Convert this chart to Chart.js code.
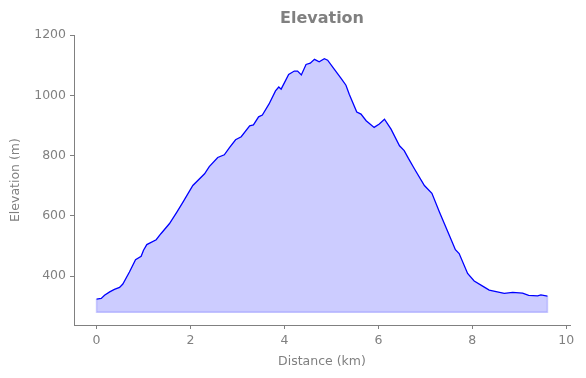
<!DOCTYPE html>
<html>
<head>
<meta charset="utf-8">
<script src="https://cdn.jsdelivr.net/npm/chart.js@4"></script>
<style>
  body { margin: 0; background: #fff; }
</style>
</head>
<body>
<canvas id="elevChart" width="586" height="378"></canvas>
<script>
'use strict';

// distance (km) and elevation (m)
const distKm = [0, 0.10, 0.17, 0.28, 0.38, 0.49, 0.56, 0.70, 0.83, 0.95, 1.00, 1.07, 1.27, 1.37, 1.55, 1.71, 1.84,
  2.05, 2.30, 2.40, 2.58, 2.72, 2.83, 2.96, 3.08, 3.26, 3.34, 3.45, 3.53, 3.67, 3.81, 3.88, 3.93,
  4.09, 4.21, 4.28, 4.36, 4.46, 4.55, 4.64, 4.74, 4.85, 4.92, 5.06, 5.21, 5.31, 5.38, 5.54, 5.63,
  5.74, 5.91, 6.02, 6.13, 6.27, 6.45, 6.55, 6.64, 6.77, 6.98, 7.14, 7.30, 7.51, 7.64, 7.72, 7.90,
  8.04, 8.22, 8.36, 8.68, 8.86, 9.07, 9.20, 9.39, 9.46, 9.60];
const elevM = [324, 326, 337, 348, 356, 363, 374, 414, 455, 466, 486, 505, 521, 541, 574, 613, 646,
  701, 740, 764, 794, 803, 827, 853, 863, 899, 902, 929, 935, 971, 1015, 1028, 1021,
  1070, 1081, 1081, 1068, 1103, 1107, 1120, 1112, 1122, 1117, 1087, 1056, 1034, 1004, 945, 938,
  916, 894, 905, 921, 888, 833, 817, 791, 756, 701, 675, 613, 536, 488, 475, 409,
  384, 367, 354, 343, 346, 344, 336, 335, 338, 334];
const baseElev = 280;
const xTicks = [0, 2, 4, 6, 8, 10];
const yTicks = [400, 600, 800, 1000, 1200];

const gray = '#808080';
const font = { family: 'DejaVu Sans', size: 12.5 };

let profile = distKm.map(function(d, i) { return { x: d, y: elevM[i] }; });
let last = distKm.length - 1;
// outline of the filled area (left, bottom, right edges)
let edge = [
  { x: distKm[0], y: elevM[0] },
  { x: distKm[0], y: baseElev },
  { x: distKm[last], y: baseElev },
  { x: distKm[last], y: elevM[last] }
];

let context = document.querySelector('#elevChart').getContext('2d');
new Chart(context, {
  type: 'line',
  data: {
    datasets: [{
      data: profile,
      borderColor: '#0000ff',
      borderWidth: 1.3,
      pointRadius: 0,
      tension: 0,
      fill: { value: baseElev },
      backgroundColor: 'rgba(0,0,255,0.2)'
    }, {
      data: edge,
      borderColor: 'rgba(0,0,255,0.2)',
      borderWidth: 1.5,
      pointRadius: 0,
      fill: false
    }]
  },
  options: {
    responsive: false,
    animation: false,
    layout: { padding: { left: 0, right: 16, top: 0, bottom: 0 } },
    plugins: {
      legend: { display: false },
      tooltip: { enabled: false },
      title: {
        display: true,
        fullSize: false,
        text: 'Elevation',
        color: gray,
        font: { family: 'DejaVu Sans', size: 16, weight: 'bold' },
        padding: { top: 9, bottom: 7 }
      }
    },
    scales: {
      x: {
        type: 'linear',
        min: -0.48,
        max: 10.08,
        afterBuildTicks: function(scale) {
          scale.ticks = xTicks.map(function(v) { return { value: v }; });
        },
        afterFit: function(scale) { scale.height = 53; },
        grid: { display: true, drawOnChartArea: false, drawTicks: true, tickLength: 4, color: gray },
        border: { display: true, color: gray, width: 1 },
        ticks: { color: gray, font: font, padding: 4, maxRotation: 0,
          callback: function(v) { return String(v); } },
        title: { display: true, text: 'Distance (km)', color: gray, font: font, padding: { top: 4, bottom: 9 } }
      },
      y: {
        min: 238,
        max: 1200,
        afterBuildTicks: function(scale) {
          scale.ticks = yTicks.map(function(v) { return { value: v }; });
        },
        afterFit: function(scale) { scale.width = 74; },
        grid: { display: true, drawOnChartArea: false, drawTicks: true, tickLength: 4, color: gray },
        border: { display: true, color: gray, width: 1 },
        ticks: { color: gray, font: font, padding: 4,
          callback: function(v) { return String(v); } },
        title: { display: true, text: 'Elevation (m)', color: gray, font: font, padding: { top: 8, bottom: 0 } }
      }
    }
  }
});
</script>
</body>
</html>
